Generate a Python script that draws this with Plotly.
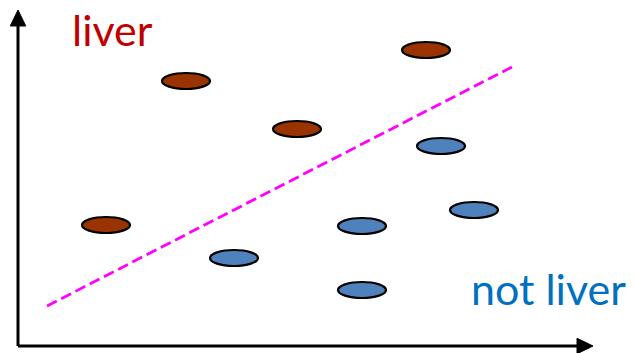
import plotly.graph_objects as go

# Data (arbitrary feature units)
liver_x = [1.76, 3.36, 5.58, 8.16]
liver_y = [2.42, 5.30, 4.34, 5.92]
not_liver_x = [4.32, 6.88, 6.88, 8.46, 9.12]
not_liver_y = [1.76, 2.40, 1.12, 4.00, 2.72]
boundary_x = [0.58, 9.88]
boundary_y = [0.80, 5.58]
labels = ["liver", "not liver"]

ELL_W, ELL_H = 0.96, 0.32
X_TIP, Y_TIP = 11.5, 6.72
HEAD_L, HEAD_W = 0.32, 0.31

fig = go.Figure()

shapes = []
def ellipses(xs, ys, color):
    for x, y in zip(xs, ys):
        shapes.append(dict(type="circle", xref="x", yref="y",
                           x0=x - ELL_W / 2, x1=x + ELL_W / 2,
                           y0=y - ELL_H / 2, y1=y + ELL_H / 2,
                           fillcolor=color, line=dict(color="black", width=2.2)))

ellipses(liver_x, liver_y, "#993300")
ellipses(not_liver_x, not_liver_y, "#4F81BD")

# axes lines
shapes.append(dict(type="line", xref="x", yref="y", x0=0, y0=0, x1=X_TIP - HEAD_L, y1=0,
                   line=dict(color="black", width=3)))
shapes.append(dict(type="line", xref="x", yref="y", x0=0, y0=0, x1=0, y1=Y_TIP - HEAD_L,
                   line=dict(color="black", width=3)))
# arrow heads
shapes.append(dict(type="path", xref="x", yref="y",
                   path=f"M {X_TIP - HEAD_L} {-HEAD_W/2} L {X_TIP} 0 L {X_TIP - HEAD_L} {HEAD_W/2} Z",
                   fillcolor="black", line=dict(color="black", width=1)))
shapes.append(dict(type="path", xref="x", yref="y",
                   path=f"M {-HEAD_W/2} {Y_TIP - HEAD_L} L 0 {Y_TIP} L {HEAD_W/2} {Y_TIP - HEAD_L} Z",
                   fillcolor="black", line=dict(color="black", width=1)))

fig.add_trace(go.Scatter(x=boundary_x, y=boundary_y, mode="lines",
                         line=dict(color="#FF00FF", width=2.8, dash="11px,5px"),
                         hoverinfo="skip", showlegend=False))

fig.add_annotation(x=1.04, y=6.34, text=labels[0], showarrow=False, xanchor="left",
                   yanchor="middle", font=dict(family="Lato", size=43, color="#C00000"))
fig.add_annotation(x=9.02, y=1.15, text=labels[1], showarrow=False, xanchor="left",
                   yanchor="middle", font=dict(family="Lato", size=43, color="#0070C0"))

# page body has an 8px margin; figure fills the rest of the 635x353 window
fig.update_layout(
    width=627, height=345, margin=dict(l=0, r=0, t=0, b=0),
    paper_bgcolor="white", plot_bgcolor="white", shapes=shapes,
    xaxis=dict(range=[-0.20, 12.34], visible=False, fixedrange=True),
    yaxis=dict(range=[-0.14, 6.76], visible=False, fixedrange=True),
    showlegend=False,
)

fig.write_html("out.html")
